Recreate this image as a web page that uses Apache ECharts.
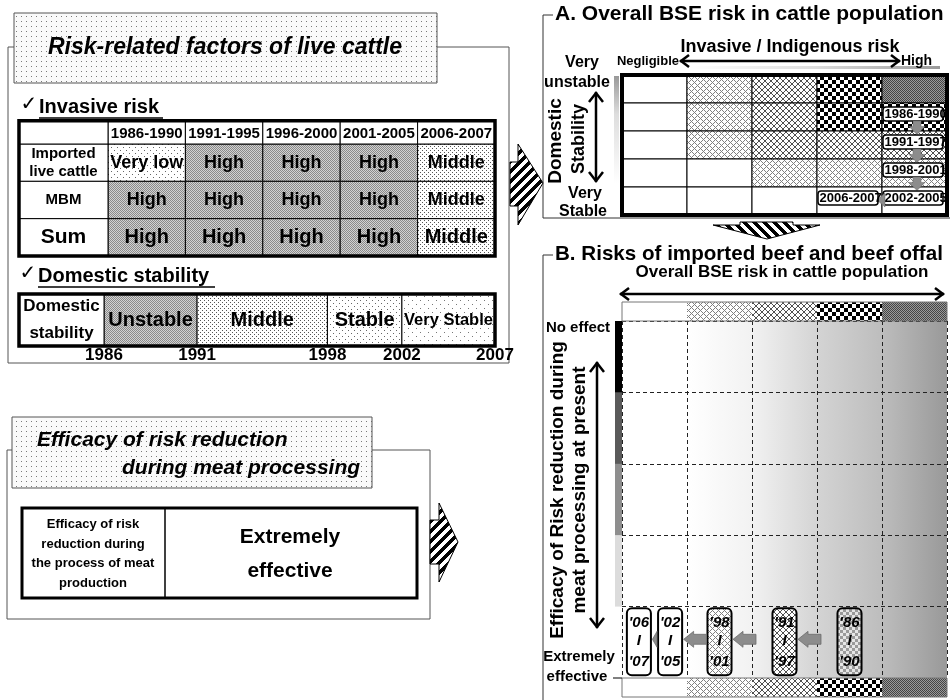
<!DOCTYPE html>
<html><head><meta charset="utf-8">
<script src="https://cdn.jsdelivr.net/npm/echarts@6/dist/echarts.min.js"></script>
<style>html,body{margin:0;padding:0;background:#fff}#c{width:950px;height:700px}</style>
</head><body><div id="c"></div>
<script>
// ================= DATA =================
const periods = ['1986-1990','1991-1995','1996-2000','2001-2005','2006-2007'];
const factors = ['Imported\nlive cattle','MBM','Sum'];
const importedCattle = ['Very low','High','High','High','Middle'];
const mbm = ['High','High','High','High','Middle'];
const sumRisk = ['High','High','High','High','Middle'];

const stabilityStart = [1986,1991,1998,2002];
const stabilityEnd   = [1991,1998,2002,2007];
const stabilityLevel = ['Unstable','Middle','Stable','Very Stable'];
const stabilityYears = [1986,1991,1998,2002,2007];

const riskLevels = ['Negligible','Low','Moderate','Considerable','High'];
const stabilityRows = ['Very unstable','Unstable','Middle','Stable','Very Stable'];
// overall BSE risk level (0..4) per [stability row][risk column]
const overallRiskMatrix = [
  [0,1,2,3,4],
  [0,1,2,3,3],
  [0,1,2,2,2],
  [0,0,1,1,1],
  [0,0,0,0,0]
];
const periodLabelsA = ['1986-1990','1991-1997','1998-2001','2002-2005','2006-2007'];
const periodRiskColA = [4,4,4,4,3];
const periodStabRowA = [1,2,3,4,4];

const efficacyLevels = ['No effect','Low','Moderate','High','Extremely effective'];
const periodLabelsB = ["'86\nI\n'90","'91\nI\n'97","'98\nI\n'01","'02\nI\n'05","'06\nI\n'07"];
const periodRiskB = [3,2,1,0,0];
const periodEfficacyB = [4,4,4,4,4];

const efficacyFactor = 'Efficacy of risk\nreduction during\nthe process of meat\nproduction';
const efficacyValue = 'Extremely\neffective';

// ================= STYLES =================
const FF = '"Liberation Sans", Arial, "DejaVu Sans", sans-serif';
function mkPat(size, draw, bg){
  const c=document.createElement('canvas'); c.width=c.height=size;
  const x=c.getContext('2d'); x.fillStyle=bg||'#fff'; x.fillRect(0,0,size,size);
  draw(x,size); return {image:c, repeat:'repeat'};
}
const PAT = {
  titleDots: mkPat(5,x=>{x.fillStyle='#7a7a7a'; x.fillRect(1,1,1,1);}, '#fafafa'),
  high: mkPat(2,x=>{x.fillStyle='#8a8a8a'; x.fillRect(0,0,1,1); x.fillRect(1,1,1,1);}, '#d2d2d2'),
  middle: mkPat(4,x=>{x.fillStyle='#555'; x.fillRect(0,0,1,1); x.fillRect(2,2,1,1);}),
  light: mkPat(6,x=>{x.fillStyle='#666'; x.fillRect(0,0,1,1); x.fillRect(3,3,1,1);}),
  lighter: mkPat(8,x=>{x.fillStyle='#777'; x.fillRect(0,0,1,1); x.fillRect(4,4,1,1);}),
  L1: mkPat(6,x=>{x.fillStyle='#808080'; [[0,0],[2,0],[1,1],[0,2],[2,2],[3,3],[5,3],[4,4],[3,5],[5,5]].forEach(p=>x.fillRect(p[0],p[1],1,1));}),
  L2: mkPat(6,x=>{x.fillStyle='#505050'; for(let i=0;i<6;i++){x.fillRect(i,i,1,1); x.fillRect(5-i,i,1,1);}}),
  L3: mkPat(8,x=>{x.fillStyle='#000'; x.fillRect(0,0,4,4); x.fillRect(4,4,4,4);}),
  L4: mkPat(2,x=>{x.fillStyle='#444'; x.fillRect(0,0,1,1); x.fillRect(1,1,1,1);}, '#9a9a9a'),
  L3soft: mkPat(6,x=>{x.fillStyle='#9a9a9a'; x.fillRect(0,0,3,3); x.fillRect(3,3,3,3);}, '#e6e6e6'),
  stripeR: mkPat(10,x=>{x.fillStyle='#000'; for(let y=0;y<10;y++) for(let t=0;t<5;t++) x.fillRect((9-y+t)%10,y,1,1);}),
  stripeD: mkPat(10,x=>{x.fillStyle='#000'; for(let y=0;y<10;y++) for(let t=0;t<5;t++) x.fillRect((y+t)%10,y,1,1);})
};
const LEVEL_PAT = ['#fff', PAT.L1, PAT.L2, PAT.L3, PAT.L4];
const BOX_PAT = ['#fff', PAT.L1, PAT.L2, PAT.L3soft, PAT.L4];
const invFill = {'Very low':PAT.light, 'High':PAT.high, 'Middle':PAT.middle};
const stabFill = {'Unstable':PAT.high, 'Middle':PAT.middle, 'Stable':PAT.light, 'Very Stable':PAT.lighter};
const EFF_COLORS = ['#000','#5a5a5a','#8e8e8e','#dcdcdc','#fff'];

const mctx = document.createElement('canvas').getContext('2d');
function fitFont(txt, maxW, base, st){
  st = st || 'bold'; mctx.font = st+' '+base+'px '+FF;
  const w = mctx.measureText(txt).width; let f = base;
  if (w > maxW) f = Math.floor(base*maxW/w*10)/10;
  return st+' '+f+'px '+FF;
}
function rectEl(x,y,w,h,fill,stroke,lw,extra){
  return Object.assign({type:'rect', shape:{x,y,width:w,height:h}, style:{fill:fill||'none', stroke:stroke===undefined?'#000':stroke, lineWidth:lw||1}}, extra||{});
}
function textEl(t,x,y,font,align,lh){
  return {type:'text', style:{text:t, x, y, font, fill:'#000', align:align||'center', verticalAlign:'middle', lineHeight:lh}};
}

// ================= RENDERERS =================
const invasiveRows = [importedCattle, mbm, sumRisk];
function renderInvasive(params, api){
  const c=api.value(0), r=api.value(1);
  const p=api.coord([c,r]), s=api.size([1,1]);
  const w=s[0], h=s[1], x=p[0]-w/2, y=p[1]-h/2;
  const txt = invasiveRows[r][c];
  const last = r===factors.length-1;
  const kids = [rectEl(x,y,w,h,invFill[txt],'#000',1), textEl(txt,x+w/2,y+h/2,fitFont(txt,w-2,last?20:18))];
  const lw=w*1.15, hh=h*0.62;
  if(c===0){ kids.push(rectEl(x-lw,y,lw,h,'#fff')); kids.push(textEl(factors[r],x-lw/2,y+h/2,'bold '+(last?21:15)+'px '+FF,'center',18)); }
  if(r===0){ kids.push(rectEl(x,y-hh,w,hh,'#fff')); kids.push(textEl(periods[c],x+w/2,y-hh/2+1,fitFont(periods[c],w-2,15))); }
  if(r===0&&c===0) kids.push(rectEl(x-lw,y-hh,lw,hh,'#fff'));
  if(last && c===periods.length-1){
    const x0=x-(periods.length-1)*w-lw, y0=y-(factors.length-1)*h-hh;
    kids.push(rectEl(x0,y0,x+w-x0,y+h-y0,'none','#000',3.5));
  }
  return {type:'group', children:kids};
}
function renderStability(params, api){
  const i=params.dataIndex;
  const a=api.coord([api.value(0),0]), b=api.coord([api.value(1),0]);
  const h=api.size([0,1])[1];
  const x=a[0], w=b[0]-a[0], y=a[1]-h/2;
  const txt=stabilityLevel[i];
  const kids=[rectEl(x,y,w,h,stabFill[txt],'#000',1), textEl(txt,x+w/2,y+h/2,fitFont(txt,w-4,20))];
  const lw=85;
  if(i===0){ kids.push(rectEl(x-lw,y,lw,h,'#fff')); kids.push(textEl('Domestic\nstability',x-lw/2,y+h/2,'bold 17px '+FF,'center',27)); }
  if(i===stabilityLevel.length-1){
    const x0=api.coord([stabilityStart[0],0])[0]-lw;
    kids.push(rectEl(x0,y,x+w-x0,h,'none','#000',3.5));
  }
  return {type:'group', children:kids};
}
function renderMatrix(params, api){
  const c=api.value(0), r=api.value(1);
  const p=api.coord([c,r]), s=api.size([1,1]);
  return rectEl(p[0]-s[0]/2,p[1]-s[1]/2,s[0],s[1],LEVEL_PAT[overallRiskMatrix[r][c]],'#000',1);
}
function boxA(i, api){
  const p=api.coord([periodRiskColA[i],periodStabRowA[i]]), s=api.size([1,1]);
  const bw=s[0]-5, bh=14;
  return {x:p[0]-s[0]/2+1, y:p[1]-3-bh/2, w:bw, h:bh};
}
function renderPeriodA(params, api){
  const i=params.dataIndex; const b=boxA(i,api);
  const kids=[];
  kids.push({type:'rect', shape:{x:b.x,y:b.y,width:b.w,height:b.h,r:3}, style:{fill:'#fff',stroke:'#000',lineWidth:1.5}});
  kids.push(textEl(periodLabelsA[i], b.x+1.5, b.y+b.h/2+0.5, 'bold 13px '+FF, 'left'));
  if(i<periodLabelsA.length-1){
    const n=boxA(i+1,api);
    if(periodRiskColA[i+1]===periodRiskColA[i]){
      const ax=b.x+34, y1=b.y+b.h, y2=n.y-0.5, ym=y1+(y2-y1)*0.4;
      kids.push({type:'polygon', shape:{points:[[ax-4,y1],[ax+4,y1],[ax+4,ym],[ax+8,ym],[ax,y2],[ax-8,ym],[ax-4,ym]]}, style:{fill:'#8c8c8c',stroke:'#666',lineWidth:0.5}});
    } else {
      const tip=n.x+n.w-1, end=b.x+2, cy=b.y+b.h/2+2;
      kids.push({type:'polygon', shape:{points:[[tip,cy],[end,cy-7],[end,cy+7]]}, style:{fill:'#8c8c8c',stroke:'#666',lineWidth:0.5}});
    }
  }
  return {type:'group', children:kids};
}
function boxB(i, api){
  const c=periodRiskB[i], r=periodEfficacyB[i];
  const p=api.coord([c,r]), s=api.size([1,1]);
  const same=[]; periodRiskB.forEach((v,j)=>{ if(v===c && periodEfficacyB[j]===r) same.push(j); });
  const k=same.indexOf(i);
  const off=((same.length-1)/2-k)*s[0]*0.48;
  const w=s[0]*0.37, h=s[1]*0.94;
  return {x:p[0]+off-w/2, y:p[1]-h/2-0.5, w, h, cx:p[0]+off, cy:p[1]};
}
function renderPeriodB(params, api){
  const i=params.dataIndex; const b=boxB(i,api);
  const kids=[{type:'rect', shape:{x:b.x,y:b.y,width:b.w,height:b.h,r:5}, style:{fill:BOX_PAT[periodRiskB[i]],stroke:'#000',lineWidth:2}}];
  const lines=periodLabelsB[i].split('\n'); const dy=[-19,-1,20];
  lines.forEach((t,k)=>kids.push(textEl(t,b.cx,b.cy+dy[k],'italic bold 15px '+FF)));
  if(i<periodLabelsB.length-1){
    const n=boxB(i+1,api);
    const tip=n.x+n.w+1.5, L=Math.max(4,Math.min(23,b.x-1-tip)), hl=Math.min(10,L), cy=b.cy-3;
    kids.push({type:'polygon', shape:{points:[[tip,cy],[tip+hl,cy-8],[tip+hl,cy-5],[tip+L,cy-5],[tip+L,cy+5],[tip+hl,cy+5],[tip+hl,cy+8]]}, style:{fill:'#8c8c8c',stroke:'#666',lineWidth:0.7}});
  }
  return {type:'group', children:kids};
}
function renderStrip(params, api){
  const c=api.value(0); const p=api.coord([c,0]), s=api.size([1,1]);
  return rectEl(p[0]-s[0]/2,p[1]-s[1]/2,s[0],s[1],LEVEL_PAT[c],null,0);
}
function renderEffBar(params, api){
  const r=api.value(1); const p=api.coord([0,r]), s=api.size([1,1]);
  return rectEl(p[0]-s[0]/2,p[1]-s[1]/2,s[0],s[1]+0.5,EFF_COLORS[r],null,0);
}

// ================= DECORATIONS =================
const G=[];
function gRect(x,y,w,h,style,z){ G.push({type:'rect', z:z||0, shape:{x,y,width:w,height:h}, style:Object.assign({fill:'none',stroke:'#000',lineWidth:1},style)}); }
function gText(t,x,y,font,opt){ opt=opt||{}; G.push({type:'text', z:20, x, y, rotation:opt.rot||0, style:Object.assign({text:t, font, fill:'#000', align:'center', verticalAlign:'middle'}, opt.style||{})}); }
function gLine(pts,lw,color,z){ G.push({type:'polyline', z:z||20, shape:{points:pts}, style:{stroke:color||'#000', lineWidth:lw||1, fill:'none'}}); }
function gPoly(pts,style){ G.push({type:'polygon', z:20, shape:{points:pts}, style}); }
function arrowH(x1,x2,y){ gLine([[x1,y],[x2,y]],2.5); gLine([[x1+9,y-6],[x1+1,y],[x1+9,y+6]],2.5); gLine([[x2-9,y-6],[x2-1,y],[x2-9,y+6]],2.5); }
function arrowV(x,y1,y2){ gLine([[x,y1],[x,y2]],2.5); gLine([[x-7,y1+10],[x,y1+1],[x+7,y1+10]],2.5); gLine([[x-7,y2-10],[x,y2-1],[x+7,y2-10]],2.5); }

// top-left panel
gRect(8,47,501,316,{stroke:'#555'},0);
gRect(14,13,423,70,{fill:PAT.titleDots,stroke:'#555'},1);
gText('Risk-related factors of live cattle',225,48,'italic bold 23px '+FF);
gText('\u2713',29,105,'bold 20px "DejaVu Sans", sans-serif');
gText('Invasive risk',39,107,'bold 20px '+FF,{style:{align:'left'}});
gLine([[39,118],[163,118]],1.5);
gText('\u2713',28,274,'bold 20px "DejaVu Sans", sans-serif');
gText('Domestic stability',38,276,'bold 20px '+FF,{style:{align:'left'}});
gLine([[38,287],[215,287]],1.5);

// bottom-left panel
gRect(7,450,423,169,{stroke:'#555'},0);
gRect(12,417,360,71,{fill:PAT.titleDots,stroke:'#555'},1);
gText('Efficacy of risk reduction',37,440,'italic bold 21px '+FF,{style:{align:'left'}});
gText('during meat processing',122,468,'italic bold 21px '+FF,{style:{align:'left'}});
gRect(22,508,395,90,{lineWidth:3},2);
gLine([[165,508],[165,598]],1.5);
gText(efficacyFactor,93,554,'bold 13px '+FF,{style:{lineHeight:19.5}});
gText(efficacyValue,290,554,'bold 21px '+FF,{style:{lineHeight:34}});

// striped arrows
gPoly([[510,162],[518,162],[518,144],[543,183],[518,225],[518,206],[510,206]],{fill:PAT.stripeR,stroke:'#000',lineWidth:1});
gPoly([[430,520],[439,520],[439,503],[458,542],[439,582],[439,564],[430,564]],{fill:PAT.stripeR,stroke:'#000',lineWidth:1});
gPoly([[740,222],[793,222],[793,225],[820,225],[767,239],[713,225],[740,225]],{fill:PAT.stripeD,stroke:'#000',lineWidth:1});

// panel A
gLine([[553,15],[543,15],[543,218],[950,218]],1,'#333',1);
gText('A. Overall BSE risk in cattle population',555,14,'bold 21px '+FF,{style:{align:'left'}});
gText('Invasive / Indigenous risk',790,47,'bold 18px '+FF);
gText('Negligible',679,61,'bold 13px '+FF,{style:{align:'right'}});
gText('High',901,61,'bold 14px '+FF,{style:{align:'left'}});
arrowH(680,900,61);
G.push({type:'rect',z:1,shape:{x:690,y:66,width:250,height:3},style:{fill:{type:'linear',x:0,y:0,x2:1,y2:0,colorStops:[{offset:0,color:'#fff'},{offset:0.5,color:'#ddd'},{offset:1,color:'#999'}]}}});
G.push({type:'rect',z:1,shape:{x:614,y:76,width:5,height:108},style:{fill:{type:'linear',x:0,y:0,x2:0,y2:1,colorStops:[{offset:0,color:'#999'},{offset:0.35,color:'#ddd'},{offset:1,color:'#fff'}]}}});
gText('Very',582,63,'bold 16px '+FF);
gText('unstable',577,83,'bold 16px '+FF);
gText('Very',585,194,'bold 16px '+FF);
gText('Stable',583,212,'bold 16px '+FF);
gText('Domestic',556,141,'bold 19px '+FF,{rot:Math.PI/2});
gText('Stability',579,139,'bold 18px '+FF,{rot:Math.PI/2});
arrowV(596,92,182);

// panel B
gLine([[553,255],[543,255],[543,700]],1,'#333',1);
gText('B. Risks of imported beef and beef offal',555,254,'bold 20.6px '+FF,{style:{align:'left'}});
gText('Overall BSE risk in cattle population',782,272,'bold 17px '+FF);
arrowH(620,944,294);
gText('No effect',578,328,'bold 15px '+FF);
gText('Extremely',579,657,'bold 15px '+FF);
gText('effective',577,677,'bold 15px '+FF);
gText('Efficacy of Risk reduction during',558,490,'bold 19px '+FF,{rot:Math.PI/2});
gText('meat processing at present',580,490,'bold 19px '+FF,{rot:Math.PI/2});
arrowV(597,362,628);
gLine([[613,678],[622,678]],1);

// ================= CHART =================
const gridBg = {type:'linear',x:0,y:0,x2:1,y2:0,colorStops:[{offset:0,color:'#fff'},{offset:0.2,color:'#fff'},{offset:0.4,color:'#f2f2f2'},{offset:0.6,color:'#d4d4d4'},{offset:0.8,color:'#bdbdbd'},{offset:1,color:'#999'}]};
const dashed = {show:true, interval:0, lineStyle:{type:[4,3], color:'#222', width:1}};
const hid = {show:false};
const invData=[]; factors.forEach((f,r)=>periods.forEach((p,c)=>invData.push([c,r])));
const matData=[]; stabilityRows.forEach((s,r)=>riskLevels.forEach((l,c)=>matData.push([c,r])));

const option = {
  animation:false,
  backgroundColor:'#fff',
  grid:[
    {left:108, top:144, width:387, height:112},
    {left:104, top:294, width:391, height:52},
    {left:622, top:75, width:325, height:140, show:true, borderColor:'#000', borderWidth:4, backgroundColor:'transparent', z:10},
    {left:622, top:321, width:325, height:357, show:true, borderWidth:0, backgroundColor:gridBg},
    {left:622, top:302, width:325, height:19, show:true, borderColor:'#777', borderWidth:1, backgroundColor:'transparent', z:10},
    {left:622, top:678, width:325, height:19, show:true, borderColor:'#777', borderWidth:1, backgroundColor:'transparent', z:10},
    {left:615, top:321, width:7, height:357}
  ],
  xAxis:[
    {gridIndex:0, type:'category', data:periods, show:false},
    {gridIndex:1, type:'value', min:1986, max:2007, axisLine:hid, axisTick:hid, splitLine:hid,
      axisLabel:{customValues:stabilityYears, formatter:v=>String(v), fontWeight:'bold', fontSize:17, fontFamily:FF, color:'#000', margin:1}},
    {gridIndex:2, type:'category', data:riskLevels, show:false},
    {gridIndex:3, type:'category', data:riskLevels, axisLine:hid, axisTick:hid, axisLabel:hid, splitLine:dashed},
    {gridIndex:4, type:'category', data:riskLevels, show:false},
    {gridIndex:5, type:'category', data:riskLevels, show:false},
    {gridIndex:6, type:'category', data:['bar'], show:false}
  ],
  yAxis:[
    {gridIndex:0, type:'category', data:factors, inverse:true, show:false},
    {gridIndex:1, type:'category', data:['Domestic stability'], show:false},
    {gridIndex:2, type:'category', data:stabilityRows, inverse:true, show:false},
    {gridIndex:3, type:'category', data:efficacyLevels, inverse:true, axisLine:hid, axisTick:hid, axisLabel:hid, splitLine:dashed},
    {gridIndex:4, type:'category', data:['top'], show:false},
    {gridIndex:5, type:'category', data:['bottom'], show:false},
    {gridIndex:6, type:'category', data:efficacyLevels, inverse:true, show:false}
  ],
  series:[
    {type:'custom', name:'Invasive risk', xAxisIndex:0, yAxisIndex:0, encode:{x:0,y:1}, data:invData, renderItem:renderInvasive, silent:true},
    {type:'custom', name:'Domestic stability', xAxisIndex:1, yAxisIndex:1, encode:{x:[0,1],y:2},
      data:stabilityStart.map((s,i)=>[s,stabilityEnd[i],0]), renderItem:renderStability, silent:true},
    {type:'custom', name:'Overall BSE risk', xAxisIndex:2, yAxisIndex:2, encode:{x:0,y:1}, data:matData, renderItem:renderMatrix, silent:true},
    {type:'custom', name:'Periods A', xAxisIndex:2, yAxisIndex:2, encode:{x:0,y:1}, clip:true, z:3,
      data:periodRiskColA.map((c,i)=>[c,periodStabRowA[i]]), renderItem:renderPeriodA, silent:true},
    {type:'custom', name:'Periods B', xAxisIndex:3, yAxisIndex:3, encode:{x:0,y:1}, z:3,
      data:periodRiskB.map((c,i)=>[c,periodEfficacyB[i]]), renderItem:renderPeriodB, silent:true},
    {type:'custom', name:'Top strip', xAxisIndex:4, yAxisIndex:4, encode:{x:0,y:1}, data:riskLevels.map((l,i)=>[i,0]), renderItem:renderStrip, silent:true},
    {type:'custom', name:'Bottom strip', xAxisIndex:5, yAxisIndex:5, encode:{x:0,y:1}, data:riskLevels.map((l,i)=>[i,0]), renderItem:renderStrip, silent:true},
    {type:'custom', name:'Efficacy bar', xAxisIndex:6, yAxisIndex:6, encode:{x:0,y:1}, data:efficacyLevels.map((l,i)=>[0,i]), renderItem:renderEffBar, silent:true}
  ],
  graphic:{elements:G}
};
const chart = echarts.init(document.getElementById('c'), null, {renderer:'canvas'});
chart.setOption(option);
</script></body></html>
